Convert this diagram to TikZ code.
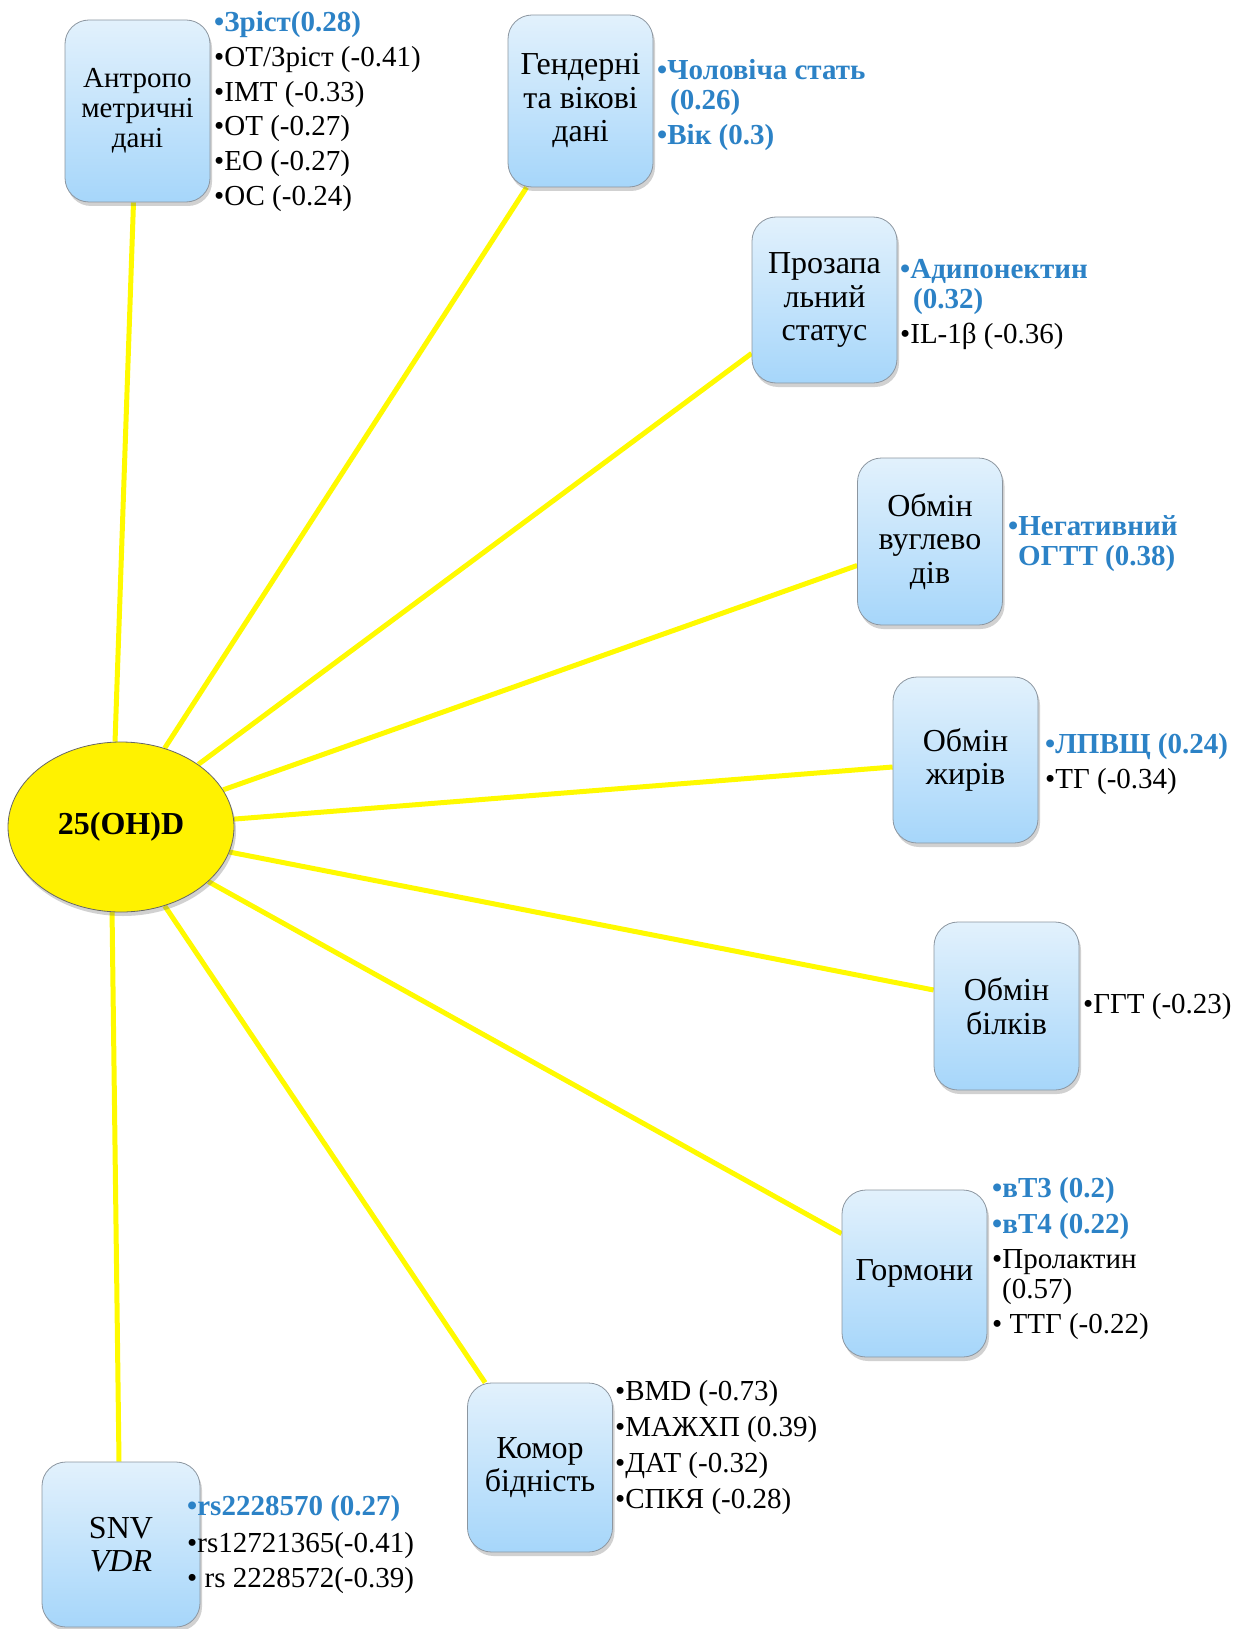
\documentclass[tikz,border=0pt]{standalone}
\usepackage{fontspec}
\setmainfont{Liberation Serif}
\usetikzlibrary{shadows,backgrounds,shapes.geometric}

\definecolor{labblue}{RGB}{44,130,198}
\definecolor{boxtop}{RGB}{226,241,252}
\definecolor{boxbot}{RGB}{166,214,250}
\definecolor{boxline}{RGB}{140,150,160}
\definecolor{linkyellow}{RGB}{255,250,0}

\tikzset{
  factor/.style={draw=boxline, line width=0.8pt, rounded corners=24pt,
    top color=boxtop, bottom color=boxbot, align=center,
    minimum width=145pt, inner sep=0pt,
    font=\fontsize{32}{33.5}\selectfont,
    drop shadow={shadow xshift=2pt, shadow yshift=-4pt, opacity=0.3, fill=black!60}},
  core/.style={ellipse, draw=black!60, line width=0.8pt, fill=yellow,
    minimum width=226pt, minimum height=170pt, inner sep=0pt,
    font=\fontsize{32}{34}\selectfont\bfseries,
    drop shadow={shadow xshift=2pt, shadow yshift=-4pt, opacity=0.3, fill=black!60}},
  link/.style={draw=linkyellow, line width=5pt},
  lab/.style={anchor=base west, inner sep=0pt, font=\fontsize{29}{30}\selectfont},
  blab/.style={lab, text=labblue, font=\fontsize{29}{30}\selectfont\bfseries},
}

\begin{document}
\begin{tikzpicture}[x=1pt, y=-1pt]
\useasboundingbox (0,0) rectangle (1246,1629);

% central marker
\node[core] (ell) at (121,827) {25(OH)D};

% factor groups
\node[factor, minimum height=182pt, font=\fontsize{29}{30}\selectfont] (ant) at (137.5,111) {Антропо\\метричні\\дані};
\node[factor, minimum height=172pt] (gen) at (580.5,101) {Гендерні\\та вікові\\дані};
\node[factor, minimum height=166pt] (proz) at (824.5,300) {Прозапа\\льний\\статус};
\node[factor, minimum height=167pt] (vug) at (930,541.5) {Обмін\\вуглево\\дів};
\node[factor, minimum height=166pt] (zhyr) at (965.5,760) {Обмін\\жирів};
\node[factor, minimum height=168pt] (bilk) at (1006.5,1006) {Обмін\\білків};
\node[factor, minimum height=167pt] (horm) at (914.5,1273.5) {Гормони};
\node[factor, minimum height=169pt] (kom) at (540,1467.5) {Комор\\бідність};
\node[factor, minimum width=158pt, minimum height=165pt] (snv) at (121,1544.5) {SNV\\\textit{VDR}};

% connectors
\begin{scope}[on background layer]
  \draw[link] (ell.94.7)  -- ([xshift=-4pt]ant.south);
  \draw[link] (ell.61)    -- ([xshift=19pt]gen.south west);
  \draw[link] (ell.39)    -- ([yshift=30pt]proz.south west);
  \draw[link] (ell.20.6)  -- ([yshift=-24pt]vug.west);
  \draw[link] (ell.4)     -- ([yshift=-7pt]zhyr.west);
  \draw[link] (ell.-13.5) -- ([yshift=16pt]bilk.west);
  \draw[link] (ell.-32)   -- ([yshift=-44pt]horm.north west);
  \draw[link] (ell.-61.7) -- ([xshift=18pt]kom.north west);
  \draw[link] (ell.-96.7) -- ([xshift=-2pt]snv.north);
\end{scope}

% correlations: anthropometry
\node[blab] (a1) at (214,32)  {•Зріст(0.28)};
\node[lab]  (a2) at (214,67)  {•ОТ/Зріст (-0.41)};
\node[lab]  (a3) at (214,102) {•ІМТ (-0.33)};
\node[lab]  (a4) at (214,136) {•ОТ (-0.27)};
\node[lab]  (a5) at (214,171) {•ЕО (-0.27)};
\node[lab]  (a6) at (214,206) {•ОС (-0.24)};

% gender and age
\node[blab] (g1)  at (657,80)  {•Чоловіча стать};
\node[blab] (g1b) at (670,110) {(0.26)};
\node[blab] (g2)  at (657,145) {•Вік (0.3)};

% inflammation
\node[blab] (p1)  at (900,278) {•Адипонектин};
\node[blab] (p1b) at (913,308) {(0.32)};
\node[lab]  (p2)  at (900,343) {•IL-1β (-0.36)};

% carbohydrates
\node[blab] (v1)  at (1008,535)  {•Негативний};
\node[blab] (v1b) at (1018,565)  {ОГТТ (0.38)};

% lipids
\node[blab] (z1) at (1045,753) {•ЛПВЩ (0.24)};
\node[lab]  (z2) at (1045,788) {•ТГ (-0.34)};

% proteins
\node[lab] (b1) at (1083,1013) {•ГГТ (-0.23)};

% hormones
\node[blab] (h1)  at (992,1197)  {•вТ3 (0.2)};
\node[blab] (h2)  at (992,1233)  {•вТ4 (0.22)};
\node[lab]  (h3)  at (992,1268)  {•Пролактин};
\node[lab]  (h3b) at (1002,1298) {(0.57)};
\node[lab]  (h4)  at (992,1333)  {• ТТГ (-0.22)};

% comorbidity
\node[lab] (k1) at (615,1400) {•BMD (-0.73)};
\node[lab] (k2) at (615,1436) {•МАЖХП (0.39)};
\node[lab] (k3) at (615,1472) {•ДАТ (-0.32)};
\node[lab] (k4) at (615,1508) {•СПКЯ (-0.28)};

% VDR variants
\node[blab] (s1) at (187,1515) {•rs2228570 (0.27)};
\node[lab]  (s2) at (187,1552) {•rs12721365(-0.41)};
\node[lab]  (s3) at (187,1587) {• rs 2228572(-0.39)};
\end{tikzpicture}
\end{document}
